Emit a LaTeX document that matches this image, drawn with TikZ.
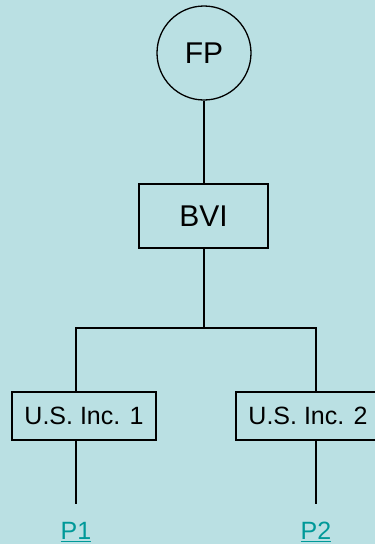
\documentclass[tikz,border=0pt]{standalone}
\usepackage{fontspec}
\setmainfont{Liberation Sans}
\definecolor{bgc}{HTML}{BAE0E3}
\definecolor{linkc}{HTML}{009999}
\begin{document}
\begin{tikzpicture}[x=1pt,y=-1pt,
  boxst/.style={draw=black,line width=1.7pt,rectangle,inner sep=0pt,font=\fontsize{25}{30}\selectfont},
  circst/.style={draw=black,line width=1.3pt,circle,inner sep=0pt,minimum size=94pt,font=\fontsize{30}{36}\selectfont},
  conn/.style={draw=black,line width=1.6pt},
  linkst/.style={inner sep=0pt,anchor=base,text=linkc,font=\fontsize{25}{30}\selectfont},
  ulst/.style={draw=linkc,line width=1.6pt}]
\fill[bgc] (0,0) rectangle (375,544);
\useasboundingbox (0,0) rectangle (375,544);
\clip (0,0) rectangle (375,544);
\node[circst] (fp) at (204,53) {FP};
\node[boxst,minimum width=129pt,minimum height=64pt,font=\fontsize{30}{36}\selectfont] (bvi) at (203.5,216) {BVI};
\node[boxst,minimum width=144pt,minimum height=48pt] (inc1) at (84,416) {U.S. Inc. 1};
\node[boxst,minimum width=144pt,minimum height=48pt] (inc2) at (308,416) {U.S. Inc. 2};
\coordinate (j) at (204,328);
\coordinate (l) at (76,328);
\coordinate (r) at (316,328);
\coordinate (e1) at (76,504);
\coordinate (e2) at (316,504);
\node[linkst] (p1) at (76,539) {P1};
\node[linkst] (p2) at (316,539) {P2};
\draw[ulst] ([yshift=-2.5pt]p1.base west) -- ([yshift=-2.5pt]p1.base east);
\draw[ulst] ([yshift=-2.5pt]p2.base west) -- ([yshift=-2.5pt]p2.base east);
\draw[conn] (fp.south -| j) -- (bvi.north -| j);
\draw[conn] (bvi.south -| j) -- (j);
\draw[conn] (l |- inc1.north) -- (l) -- (r) -- (r |- inc2.north);
\draw[conn] (l |- inc1.south) -- (e1);
\draw[conn] (r |- inc2.south) -- (e2);
\end{tikzpicture}
\end{document}
